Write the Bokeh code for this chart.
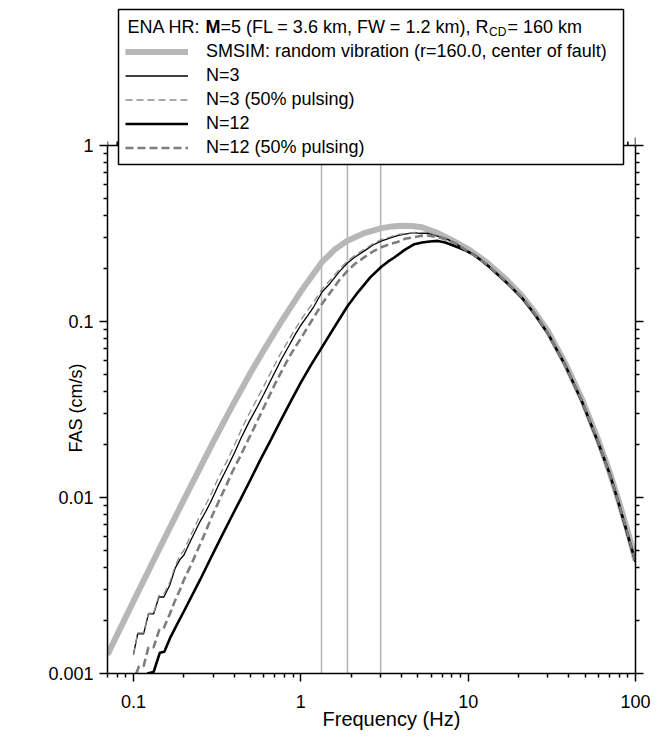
from bokeh.plotting import figure
from bokeh.models import (Legend, LegendItem, Label, FixedTicker, Title, LogAxis,
                          CustomJSTickFormatter, Range1d, BoxAnnotation)
from bokeh.embed import file_html
from bokeh.resources import INLINE

FONT = "Liberation Sans"

# ---------------- data ----------------
x_ticks = [0.1, 1, 10, 100]
x_minor = [0.07, 0.08, 0.09, 0.2, 0.3, 0.4, 0.5, 0.6, 0.7, 0.8, 0.9,
           2, 3, 4, 5, 6, 7, 8, 9, 20, 30, 40, 50, 60, 70, 80, 90]
y_ticks = [0.001, 0.01, 0.1, 1]
y_minor = [0.002, 0.003, 0.004, 0.005, 0.006, 0.007, 0.008, 0.009,
           0.02, 0.03, 0.04, 0.05, 0.06, 0.07, 0.08, 0.09,
           0.2, 0.3, 0.4, 0.5, 0.6, 0.7, 0.8, 0.9]

marker_freqs = [1.33, 1.9, 3.0]

smsim_f = [0.07, 0.1, 0.15, 0.2, 0.3, 0.4, 0.5, 0.6, 0.75, 1.0, 1.34, 1.6, 1.9,
           2.4, 3.0, 3.5, 4.0, 4.6, 5.3, 6.5, 8, 10, 13, 17, 21, 25, 30, 38, 48,
           60, 70, 79, 90, 100]
smsim_v = [0.00128, 0.00257, 0.00561, 0.0097, 0.0207, 0.0347, 0.051, 0.0685,
           0.097, 0.148, 0.218, 0.257, 0.288, 0.318, 0.338, 0.347, 0.350, 0.349,
           0.343, 0.320, 0.290, 0.258, 0.216, 0.172, 0.140, 0.113, 0.088, 0.058,
           0.036, 0.0211, 0.0140, 0.0097, 0.0064, 0.0044]

n3_f = [0.1, 0.106, 0.115, 0.123, 0.132, 0.142, 0.152, 0.165, 0.178, 0.19, 0.2,
        0.22, 0.25, 0.27, 0.289, 0.32, 0.364, 0.4, 0.437, 0.49, 0.55, 0.6, 0.646,
        0.7, 0.759, 0.85, 0.93, 1.0, 1.1, 1.2, 1.34, 1.5, 1.7, 1.9, 2.1, 2.4, 2.7,
        3.02, 3.4, 3.78, 4.2, 4.77, 5.2, 5.73, 6.3, 6.9, 7.55, 8.3, 9.5, 10.5, 12,
        13, 17, 21, 25, 30, 38, 48, 60, 70, 79, 90, 100]
n3_v = [0.00128, 0.00168, 0.00168, 0.00218, 0.00218, 0.00272, 0.00272, 0.00318,
        0.00398, 0.00445, 0.0047, 0.0057, 0.0073, 0.0083, 0.0094, 0.0116, 0.0148,
        0.0178, 0.0215, 0.0268, 0.0328, 0.0385, 0.0443, 0.0515, 0.0600, 0.0728,
        0.0850, 0.0950, 0.108, 0.122, 0.147, 0.165, 0.192, 0.215, 0.232, 0.252,
        0.272, 0.286, 0.298, 0.308, 0.314, 0.320, 0.316, 0.318, 0.309, 0.302,
        0.293, 0.280, 0.258, 0.243, 0.222,
        0.210, 0.167, 0.137, 0.110, 0.0855, 0.0565, 0.0350, 0.0205, 0.0137,
        0.0094, 0.0062, 0.0043]

n3p_f = [0.1, 0.106, 0.115, 0.123, 0.132, 0.142, 0.152, 0.165, 0.178, 0.19, 0.2,
         0.22, 0.25, 0.27, 0.289, 0.32, 0.364, 0.4, 0.437, 0.49, 0.55, 0.6, 0.646,
         0.7, 0.759, 0.85, 0.93, 1.0, 1.1, 1.2, 1.34, 1.5, 1.7, 1.9, 2.1, 2.4, 2.7,
         3.02, 3.4, 3.78, 4.2, 4.77, 5.2, 5.73, 6.3, 6.9, 7.55, 8.3, 9.5, 10.5, 12,
         13, 17, 21, 25, 30, 38, 48, 60, 70, 79, 90, 100]
n3p_v = [0.00128, 0.0017, 0.0017, 0.0022, 0.0022, 0.00278, 0.00282, 0.0033,
         0.0041, 0.0047, 0.0050, 0.0061, 0.0079, 0.0091, 0.0103, 0.0128, 0.0163,
         0.0197, 0.0238, 0.0298, 0.0365, 0.0428, 0.0492, 0.057, 0.066, 0.079,
         0.091, 0.102, 0.116, 0.130, 0.153, 0.172, 0.198, 0.221, 0.237, 0.258,
         0.276, 0.292, 0.302, 0.312, 0.316, 0.321, 0.320, 0.322, 0.312, 0.305,
         0.296, 0.282, 0.259, 0.244, 0.223,
         0.211, 0.168, 0.136, 0.111, 0.0858, 0.0562, 0.0352, 0.0206, 0.0136,
         0.0095, 0.0062, 0.0043]

n12_f = [0.1208, 0.132, 0.1437, 0.153, 0.1666, 0.18, 0.2, 0.25, 0.289, 0.33,
         0.381, 0.437, 0.502, 0.57, 0.661, 0.75, 0.871, 1.0, 1.15, 1.34, 1.6, 1.9,
         2.2, 2.6, 3.02, 3.3, 3.62, 4.2, 4.77, 5.3, 5.9, 6.59, 7.3, 8.0, 8.67, 9.5,
         10.9, 12, 13, 17, 21, 25, 30, 38, 48, 60, 70, 79, 90, 100]
n12_v = [0.00100, 0.00102, 0.00131, 0.00133, 0.00161, 0.00186, 0.00225, 0.0034,
         0.0045, 0.0058, 0.0076, 0.0098, 0.0127, 0.0162, 0.0212, 0.0268, 0.0352,
         0.0450, 0.0565, 0.0715, 0.094, 0.122, 0.147, 0.178, 0.204, 0.218, 0.231,
         0.256, 0.275, 0.281, 0.285, 0.287, 0.281, 0.272, 0.264, 0.255, 0.238,
         0.222,
         0.209, 0.166, 0.136, 0.110, 0.0852, 0.0566, 0.0349, 0.0204, 0.0137,
         0.0094, 0.0061, 0.0043]

n12p_f = [0.104, 0.108, 0.115, 0.123, 0.132, 0.143, 0.152, 0.165, 0.178, 0.19,
          0.2, 0.22, 0.25, 0.27, 0.296, 0.33, 0.36, 0.39, 0.43, 0.47, 0.525, 0.58,
          0.64, 0.708, 0.759, 0.85, 0.93, 1.0, 1.1, 1.2, 1.34, 1.5, 1.7, 1.9, 2.1,
          2.4, 2.7, 3.02, 3.4, 3.78, 4.2, 4.77, 5.2, 5.73, 6.3, 6.9, 7.55, 8.3,
          9.5, 10.5, 12, 13, 17, 21, 25, 30, 38, 48, 60, 70, 79, 90, 100]
n12p_v = [0.00100, 0.0011, 0.0011, 0.00141, 0.00141, 0.00178, 0.00182, 0.00218,
          0.00262, 0.0030, 0.0034, 0.0041, 0.0054, 0.0064, 0.0079, 0.0099, 0.0118,
          0.0140, 0.0168, 0.0200, 0.0248, 0.0303, 0.0368, 0.0450, 0.0510, 0.0625,
          0.0720, 0.080, 0.093, 0.106, 0.126, 0.146, 0.172, 0.194, 0.212, 0.232,
          0.250, 0.264, 0.275, 0.283, 0.295, 0.302, 0.306, 0.308, 0.303, 0.298,
          0.290, 0.279, 0.258, 0.243, 0.222,
          0.211, 0.167, 0.137, 0.111, 0.0856, 0.0563, 0.0351, 0.0206, 0.0136,
          0.0094, 0.0062, 0.0043]

labels = ["SMSIM: random vibration (r=160.0, center of fault)",
          "N=3", "N=3 (50% pulsing)", "N=12", "N=12 (50% pulsing)"]

# ---------------- figure ----------------
W, H = 665, 753
TOP_PAD = 4                # px above the frame
DECADE_PX = 176.0          # px per y decade
y_top = y_ticks[-1] * 10 ** ((145 - TOP_PAD) / DECADE_PX)   # room for the key box

p = figure(width=W, height=H, x_axis_type="log", y_axis_type="log",
           x_range=Range1d(x_minor[0], x_ticks[-1]),
           y_range=Range1d(y_ticks[0], y_top),
           output_backend="svg", toolbar_location=None,
           min_border_left=107, min_border_right=30,
           min_border_top=TOP_PAD, min_border_bottom=80)
p.outline_line_color = None
p.xgrid.visible = False
p.ygrid.visible = False
p.background_fill_color = "white"

fmt = CustomJSTickFormatter(code="return tick.toString();")
blank = CustomJSTickFormatter(code="return '';")


def style_axis(ax, show_labels):
    ax.axis_line_width = 1.5
    ax.axis_line_color = "black"
    ax.major_tick_line_width = 1.5
    ax.minor_tick_line_width = 1.5
    ax.major_tick_out = 8
    ax.major_tick_in = 0
    ax.minor_tick_out = 4
    ax.minor_tick_in = 0
    ax.major_label_text_font = FONT
    ax.major_label_text_font_size = "18px"
    ax.major_label_text_color = "black"
    ax.formatter = fmt if show_labels else blank


p.xaxis.ticker = FixedTicker(ticks=x_ticks, minor_ticks=x_minor)
p.yaxis.ticker = FixedTicker(ticks=y_ticks, minor_ticks=y_minor)
style_axis(p.xaxis[0], True)
style_axis(p.yaxis[0], True)
p.yaxis.bounds = (y_ticks[0], y_ticks[-1])
p.xaxis.major_label_standoff = 13
p.yaxis.major_label_standoff = 6

right_ax = LogAxis(ticker=FixedTicker(ticks=y_ticks, minor_ticks=y_minor),
                   bounds=(y_ticks[0], y_ticks[-1]))
style_axis(right_ax, False)
p.add_layout(right_ax, "right")

p.add_layout(Title(text="Frequency (Hz)", align="left", offset=215,
                   text_font=FONT, text_font_size="20px",
                   text_font_style="normal", text_color="black",
                   standoff=-10), "below")
p.add_layout(Title(text="FAS (cm/s)", align="left", offset=221,
                   vertical_align="bottom",
                   text_font=FONT, text_font_size="18px",
                   text_font_style="normal", text_color="black",
                   standoff=-80), "left")

# top edge of the frame at FAS = 1 (line + outward ticks)
p.line([x_minor[0], x_ticks[-1]], [y_ticks[-1], y_ticks[-1]],
       line_color="black", line_width=1.5)
maj_up = 10 ** (8 / DECADE_PX)
min_up = 10 ** (4 / DECADE_PX)
p.segment(x0=x_ticks, y0=[y_ticks[-1]] * len(x_ticks), x1=x_ticks,
          y1=[y_ticks[-1] * maj_up] * len(x_ticks), line_color="black",
          line_width=1.5)
p.segment(x0=x_minor, y0=[y_ticks[-1]] * len(x_minor), x1=x_minor,
          y1=[y_ticks[-1] * min_up] * len(x_minor), line_color="black",
          line_width=1.5)

# vertical reference lines
p.segment(x0=marker_freqs, y0=[y_ticks[0]] * len(marker_freqs),
          x1=marker_freqs, y1=[y_ticks[-1]] * len(marker_freqs),
          line_color="#b3b3b3", line_width=1.5)

r_sm = p.line(smsim_f, smsim_v, line_color="#b7b7b7", line_width=6)
r_n3 = p.line(n3_f, n3_v, line_color="black", line_width=1.3)
r_n3p = p.line(n3p_f, n3p_v, line_color="#8c8c8c", line_width=1.3, line_dash="7 4")
r_n12 = p.line(n12_f, n12_v, line_color="black", line_width=2.6)
r_n12p = p.line(n12p_f, n12p_v, line_color="#7d7d7d", line_width=2.6, line_dash="8 4")

# key box (frame-relative screen px)
KEY_L, KEY_B, KEY_W, KEY_H = 11, 509, 505, 155
p.add_layout(BoxAnnotation(left=KEY_L, right=KEY_L + KEY_W,
                           bottom=KEY_B, top=KEY_B + KEY_H,
                           left_units="screen", right_units="screen",
                           bottom_units="screen", top_units="screen",
                           fill_color="white", fill_alpha=1.0,
                           line_color="black", line_width=1.5, line_alpha=1.0),
             "center")

items = [LegendItem(label=lab, renderers=[r])
         for lab, r in zip(labels, [r_sm, r_n3, r_n3p, r_n12, r_n12p])]
legend = Legend(items=items, location=(KEY_L + 7, KEY_B + 6), title=" ",
                title_text_font=FONT, title_text_font_size="18px",
                title_standoff=3,
                label_text_font=FONT, label_text_font_size="18px",
                label_text_color="black",
                glyph_width=63, glyph_height=21, label_height=21, label_width=400,
                spacing=3, padding=7, margin=0, label_standoff=18,
                border_line_color=None,
                background_fill_alpha=0.0)
p.add_layout(legend, "center")

ty = 646.5
pieces = [
    (20, ty, "ENA HR:", "normal", "18px"),
    (98, ty, "M", "bold", "18px"),
    (113, ty, "=5 (FL = 3.6 km, FW = 1.2 km), R", "normal", "18px"),
    (381.6, ty - 5, "CD", "normal", "12px"),
    (400, ty, "= 160 km", "normal", "18px"),
]
for x, y, t, style, size in pieces:
    p.add_layout(Label(x=x, y=y, x_units="screen", y_units="screen", text=t,
                       text_font=FONT, text_font_style=style, text_font_size=size,
                       text_baseline="middle", text_align="left",
                       text_color="black"), "center")

open("out.html", "w").write(file_html(p, INLINE))
